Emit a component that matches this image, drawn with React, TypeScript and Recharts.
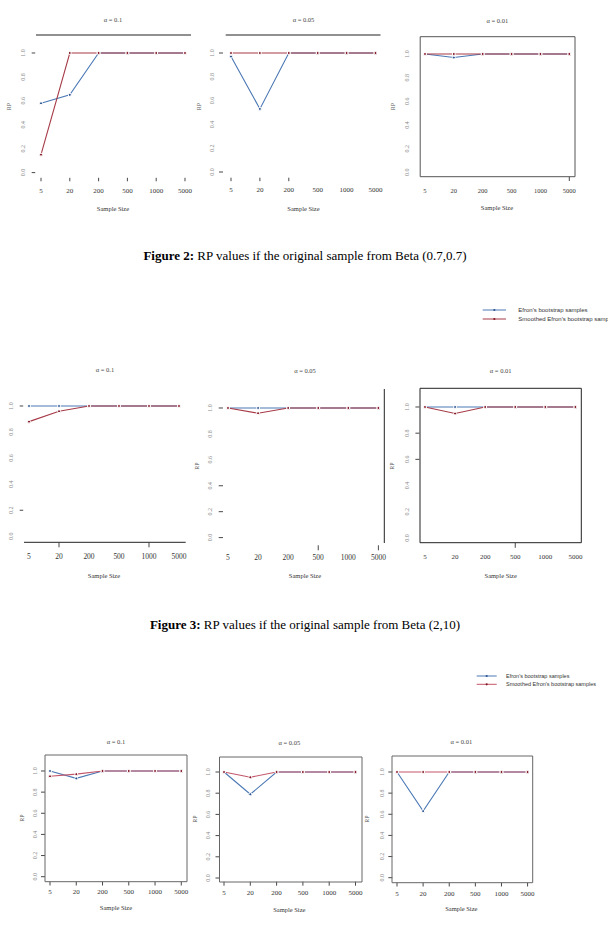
import { Line, LineChart, XAxis, YAxis } from "recharts";

// sample sizes on the x axis and the RP ticks on the y axis
const SIZES = ["5", "20", "200", "500", "1000", "5000"];
const RP_TICKS = [0, 0.2, 0.4, 0.6, 0.8, 1.0];
const ALPHAS = ["α = 0.1", "α = 0.05", "α = 0.01"];
const SERIES_NAMES = ["Efron's bootstrap samples", "Smoothed Efron's bootstrap samples"];

// Figure 2 – Beta(0.7, 0.7)
const B77_EFRON_10 = [0.58, 0.65, 1, 1, 1, 1];
const B77_SMOOTH_10 = [0.15, 1, 1, 1, 1, 1];
const B77_EFRON_05 = [0.97, 0.53, 1, 1, 1, 1];
const B77_SMOOTH_05 = [1, 1, 1, 1, 1, 1];
const B77_EFRON_01 = [1, 0.97, 1, 1, 1, 1];
const B77_SMOOTH_01 = [1, 1, 1, 1, 1, 1];

// Figure 3 – Beta(2, 10)
const B210_EFRON_10 = [1, 1, 1, 1, 1, 1];
const B210_SMOOTH_10 = [0.88, 0.96, 1, 1, 1, 1];
const B210_EFRON_05 = [1, 1, 1, 1, 1, 1];
const B210_SMOOTH_05 = [1, 0.96, 1, 1, 1, 1];
const B210_EFRON_01 = [1, 1, 1, 1, 1, 1];
const B210_SMOOTH_01 = [1, 0.95, 1, 1, 1, 1];

// next figure
const F4_EFRON_10 = [1, 0.93, 1, 1, 1, 1];
const F4_SMOOTH_10 = [0.95, 0.97, 1, 1, 1, 1];
const F4_EFRON_05 = [1, 0.79, 1, 1, 1, 1];
const F4_SMOOTH_05 = [1, 0.95, 1, 1, 1, 1];
const F4_EFRON_01 = [1, 0.63, 1, 1, 1, 1];
const F4_SMOOTH_01 = [1, 1, 1, 1, 1, 1];

const BLUE = "#4a78b4";
const BLUE_DOT = "#2c5590";
const RED = "#a63a47";
const RED_DOT = "#851b29";
const PINK = "#c4566a";

const SERIF = "'Liberation Serif', 'Times New Roman', serif";
const SANS = "'Liberation Sans', Arial, sans-serif";

type Seg = [number, number, number, number];

type PanelDef = {
  title: string;
  efron: number[];
  smoothed: number[];
  x0: number; // page x of the first sample size
  x1: number; // page x of the last sample size
  yTop: number; // page y of RP = 1
  yBottom: number; // page y of RP = 0
  yLabelX: number;
  yTick: [number, number];
  yMarks: number[];
  xLabelY: number;
  xTick: [number, number];
  xMarks: string[];
  xFont: number;
  frame: Seg[];
  frameColor: string;
  titleAt: [number, number];
  xTitleAt: [number, number];
  rpAt?: [number, number];
  smoothColor: string;
};

const box = (l: number, t: number, r: number, b: number): Seg[] => [
  [l, t, r, t],
  [r, t, r, b],
  [r, b, l, b],
  [l, b, l, t],
];

const PANELS: PanelDef[] = [
  {
    title: ALPHAS[0], efron: B77_EFRON_10, smoothed: B77_SMOOTH_10,
    x0: 41.3, x1: 185.3, yTop: 52.7, yBottom: 172.3,
    yLabelX: 23.3, yTick: [32, 35.5], yMarks: [0, 1],
    xLabelY: 191, xTick: [177.5, 181], xMarks: SIZES, xFont: 7,
    frame: [[36, 35, 191, 35]], frameColor: "#222",
    titleAt: [113, 19.3], xTitleAt: [113, 208.3], rpAt: [9, 106.7], smoothColor: RED,
  },
  {
    title: ALPHAS[1], efron: B77_EFRON_05, smoothed: B77_SMOOTH_05,
    x0: 231, x1: 375.5, yTop: 53.3, yBottom: 172.3,
    yLabelX: 212, yTick: [219, 223], yMarks: [0, 1],
    xLabelY: 190.7, xTick: [178, 181.5], xMarks: ["5", "20", "200"], xFont: 7,
    frame: [[225.7, 35, 380.5, 35]], frameColor: "#222",
    titleAt: [303.5, 19.3], xTitleAt: [303.5, 208.3], rpAt: [199, 106.7], smoothColor: RED,
  },
  {
    title: ALPHAS[2], efron: B77_EFRON_01, smoothed: B77_SMOOTH_01,
    x0: 425, x1: 569.3, yTop: 54, yBottom: 172.3,
    yLabelX: 406.6, yTick: [414, 420], yMarks: [],
    xLabelY: 190.7, xTick: [176.7, 181], xMarks: ["5000"], xFont: 6.5,
    frame: box(420.2, 36.7, 575, 176.7), frameColor: "#555",
    titleAt: [497.3, 20], xTitleAt: [497, 207.3], rpAt: [393, 106.7], smoothColor: RED,
  },
  {
    title: ALPHAS[0], efron: B210_EFRON_10, smoothed: B210_SMOOTH_10,
    x0: 29.3, x1: 179.3, yTop: 405.7, yBottom: 536,
    yLabelX: 11.7, yTick: [20, 23.5], yMarks: [1, 0.2],
    xLabelY: 556, xTick: [542.3, 547], xMarks: ["20", "1000"], xFont: 7.5,
    frame: [[24, 542.3, 185.7, 542.3]], frameColor: "#222",
    titleAt: [105, 369.3], xTitleAt: [104, 575], smoothColor: RED,
  },
  {
    title: ALPHAS[1], efron: B210_EFRON_05, smoothed: B210_SMOOTH_05,
    x0: 228.3, x1: 378.7, yTop: 407.7, yBottom: 537.3,
    yLabelX: 210.7, yTick: [219, 223.3], yMarks: [1, 0.4, 0.2, 0],
    xLabelY: 557.7, xTick: [545, 550], xMarks: ["500", "5000"], xFont: 7.5,
    frame: [[384.3, 389, 384.3, 543]], frameColor: "#222",
    titleAt: [305, 370], xTitleAt: [305, 575.7], rpAt: [196.7, 466], smoothColor: RED,
  },
  {
    title: ALPHAS[2], efron: B210_EFRON_01, smoothed: B210_SMOOTH_01,
    x0: 425.3, x1: 575.7, yTop: 406.7, yBottom: 537.6,
    yLabelX: 407.3, yTick: [415.7, 419.7], yMarks: [1, 0.8, 0.6],
    xLabelY: 556.7, xTick: [542.7, 547.5], xMarks: ["500"], xFont: 7,
    frame: box(420, 388.3, 581.3, 542.7), frameColor: "#222",
    titleAt: [500.7, 370], xTitleAt: [500.7, 575.7], rpAt: [392.3, 466], smoothColor: RED,
  },
  {
    title: ALPHAS[0], efron: F4_EFRON_10, smoothed: F4_SMOOTH_10,
    x0: 50, x1: 181.3, yTop: 771, yBottom: 876.7,
    yLabelX: 35, yTick: [41, 45], yMarks: RP_TICKS,
    xLabelY: 892, xTick: [881.7, 885.5], xMarks: SIZES, xFont: 7,
    frame: box(45, 755, 187, 881.7), frameColor: "#666",
    titleAt: [116, 741.7], xTitleAt: [116, 907.7], rpAt: [21.7, 818], smoothColor: PINK,
  },
  {
    title: ALPHAS[1], efron: F4_EFRON_05, smoothed: F4_SMOOTH_05,
    x0: 224, x1: 355.5, yTop: 772.3, yBottom: 878.3,
    yLabelX: 208.3, yTick: [215.5, 219.5], yMarks: RP_TICKS,
    xLabelY: 893, xTick: [882, 886], xMarks: SIZES, xFont: 7,
    frame: box(219.5, 757, 362, 882), frameColor: "#666",
    titleAt: [289.3, 742], xTitleAt: [289.3, 909], rpAt: [195, 819], smoothColor: PINK,
  },
  {
    title: ALPHAS[2], efron: F4_EFRON_01, smoothed: F4_SMOOTH_01,
    x0: 396.7, x1: 527.3, yTop: 772, yBottom: 877.7,
    yLabelX: 381.3, yTick: [388, 392], yMarks: RP_TICKS,
    xLabelY: 894, xTick: [882.7, 886.5], xMarks: SIZES, xFont: 7,
    frame: box(392, 756, 532.7, 882.7), frameColor: "#666",
    titleAt: [461.3, 741.7], xTitleAt: [461.3, 908], rpAt: [367, 819], smoothColor: PINK,
  },
];

const LEGENDS = [
  { x0: 482.7, x1: 506, rows: [310, 319], textX: 518.3, font: 6, smoothColor: RED },
  { x0: 476.7, x1: 496.7, rows: [676, 684.3], textX: 506, font: 5.5, smoothColor: PINK },
];

const CAPTIONS = [
  { label: "Figure 2:", text: " RP values if the original sample from Beta (0.7,0.7)", y: 260 },
  { label: "Figure 3:", text: " RP values if the original sample from Beta (2,10)", y: 629 },
];

const PAD_X = 50;
const PAD_TOP = 60;
const PAD_BOTTOM = 50;
// axes need a non-zero size or recharts skips drawing their ticks
const AXIS_SIZE = 1;

function Panel({ p }: { p: PanelDef }) {
  const left = p.x0 - PAD_X;
  const top = p.yTop - PAD_TOP;
  const width = p.x1 - p.x0 + 2 * PAD_X;
  const height = p.yBottom - p.yTop + PAD_TOP + PAD_BOTTOM;
  const rows = SIZES.map((size, i) => ({
    size,
    efron: p.efron[i],
    smoothed: p.smoothed[i],
  }));

  const yTick = (props: any) => {
    const { y, payload } = props;
    const lx = p.yLabelX - left;
    return (
      <g>
        {p.yMarks.includes(payload.value) && (
          <line x1={p.yTick[0] - left} x2={p.yTick[1] - left} y1={y} y2={y} stroke="#333" strokeWidth={0.9} />
        )}
        <text
          x={lx}
          y={y}
          transform={`rotate(-90 ${lx} ${y})`}
          textAnchor="middle"
          dominantBaseline="central"
          fontFamily={SERIF}
          fontSize={6}
          fill="#8a8a8a"
        >
          {Number(payload.value).toFixed(1)}
        </text>
      </g>
    );
  };

  const xTick = (props: any) => {
    const { x, payload } = props;
    return (
      <g>
        {p.xMarks.includes(payload.value) && (
          <line x1={x} x2={x} y1={p.xTick[0] - top} y2={p.xTick[1] - top} stroke="#333" strokeWidth={0.9} />
        )}
        <text
          x={x}
          y={p.xLabelY - top}
          textAnchor="middle"
          dominantBaseline="central"
          fontFamily={SERIF}
          fontSize={p.xFont}
          fill="#333"
        >
          {payload.value}
        </text>
      </g>
    );
  };

  return (
    <div style={{ position: "absolute", left, top, width, height }}>
      <LineChart
        width={width}
        height={height}
        data={rows}
        margin={{
          top: PAD_TOP,
          right: PAD_X,
          bottom: PAD_BOTTOM - AXIS_SIZE,
          left: PAD_X - AXIS_SIZE,
        }}
      >
        <XAxis
          dataKey="size"
          type="category"
          height={AXIS_SIZE}
          interval={0}
          padding={{ left: 0, right: 0 }}
          axisLine={false}
          tickLine={false}
          tick={xTick}
        />
        <YAxis
          type="number"
          domain={[0, 1]}
          ticks={RP_TICKS}
          interval={0}
          width={AXIS_SIZE}
          axisLine={false}
          tickLine={false}
          tick={yTick}
        />
        <Line
          type="linear"
          dataKey="efron"
          stroke={BLUE}
          strokeWidth={1.1}
          dot={{ r: 1.5, fill: BLUE_DOT, stroke: "#fff", strokeWidth: 1 }}
          isAnimationActive={false}
        />
        <Line
          type="linear"
          dataKey="smoothed"
          stroke={p.smoothColor}
          strokeWidth={1.1}
          dot={{ r: 1.5, fill: RED_DOT, stroke: "#fff", strokeWidth: 1 }}
          isAnimationActive={false}
        />
      </LineChart>
    </div>
  );
}

function Decorations() {
  return (
    <svg
      width={608}
      height={943}
      style={{ position: "absolute", left: 0, top: 0, pointerEvents: "none" }}
    >
      {PANELS.map((p, i) => (
        <g key={i}>
          {p.frame.map(([x1, y1, x2, y2], j) => (
            <line key={j} x1={x1} y1={y1} x2={x2} y2={y2} stroke={p.frameColor} strokeWidth={1} />
          ))}
          <text
            x={p.titleAt[0]}
            y={p.titleAt[1]}
            textAnchor="middle"
            dominantBaseline="central"
            fontFamily={SERIF}
            fontSize={6.5}
            fill="#444"
          >
            {p.title}
          </text>
          <text
            x={p.xTitleAt[0]}
            y={p.xTitleAt[1]}
            textAnchor="middle"
            dominantBaseline="central"
            fontFamily={SERIF}
            fontSize={6.5}
            fill="#333"
          >
            Sample Size
          </text>
          {p.rpAt && (
            <text
              x={p.rpAt[0]}
              y={p.rpAt[1]}
              transform={`rotate(-90 ${p.rpAt[0]} ${p.rpAt[1]})`}
              textAnchor="middle"
              dominantBaseline="central"
              fontFamily={SERIF}
              fontSize={6}
              fill="#555"
            >
              RP
            </text>
          )}
        </g>
      ))}

      {LEGENDS.map((lg, i) => (
        <g key={i}>
          {lg.rows.map((y, j) => {
            const color = j === 0 ? BLUE : lg.smoothColor;
            const dotColor = j === 0 ? BLUE_DOT : RED_DOT;
            return (
              <g key={j}>
                <line x1={lg.x0} x2={lg.x1} y1={y} y2={y} stroke={color} strokeWidth={1} />
                <circle cx={(lg.x0 + lg.x1) / 2} cy={y} r={1.1} fill={dotColor} />
                <text
                  x={lg.textX}
                  y={y}
                  dominantBaseline="central"
                  fontFamily={SANS}
                  fontSize={lg.font}
                  fill="#333"
                >
                  {SERIES_NAMES[j]}
                </text>
              </g>
            );
          })}
        </g>
      ))}

      {CAPTIONS.map((c, i) => (
        <text key={i} x={305} y={c.y} textAnchor="middle" fontFamily={SERIF} fontSize={13} fill="#000">
          <tspan fontWeight="bold">{c.label}</tspan>
          {c.text}
        </text>
      ))}
    </svg>
  );
}

export default function App() {
  return (
    <div
      style={{
        position: "absolute",
        left: 0,
        top: 0,
        width: 608,
        height: 943,
        background: "#fff",
        overflow: "hidden",
      }}
    >
      {PANELS.map((p, i) => (
        <Panel key={i} p={p} />
      ))}
      <Decorations />
    </div>
  );
}
